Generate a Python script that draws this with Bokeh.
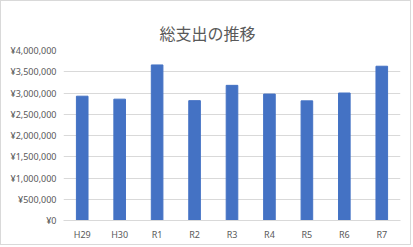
from bokeh.plotting import figure
from bokeh.models import Range1d, FixedTicker, ColumnDataSource, Title
from bokeh.embed import file_html
from bokeh.resources import INLINE

categories = ["H29", "H30", "R1", "R2", "R3", "R4", "R5", "R6", "R7"]
totals = [2925000, 2855000, 3660000, 2820000, 3180000, 2975000, 2815000, 3000000, 3630000]
tick_values = [0, 500000, 1000000, 1500000, 2000000, 2500000, 3000000, 3500000, 4000000]
tick_labels = ["¥" + format(v, ",") for v in tick_values]
title_text = "総支出の推移"

src = ColumnDataSource(dict(cat=categories, total=totals))

p = figure(width=411, height=245, x_range=categories, y_range=Range1d(0, 4000000),
           output_backend="svg", toolbar_location=None,
           min_border_left=62, min_border_right=12, min_border_top=49, min_border_bottom=26)
p.styles = {"border": "1px solid #d9d9d9"}

main_title = Title(text=title_text, align="left", offset=96, vertical_align="middle",
                   text_font="Noto Sans CJK JP", text_font_size="16px",
                   text_font_style="normal", text_color="#595959")
p.add_layout(main_title, "above")

p.vbar(x="cat", top="total", width=0.31, source=src, fill_color="#4472C4", line_color="#4472C4")

p.outline_line_color = None
p.xgrid.grid_line_color = None
p.ygrid.grid_line_color = "#d9d9d9"
p.yaxis.ticker = FixedTicker(ticks=tick_values)
p.yaxis.major_label_overrides = dict(zip(tick_values, tick_labels))
for ax in (p.xaxis, p.yaxis):
    ax.axis_line_color = None
    ax.major_tick_line_color = None
    ax.minor_tick_line_color = None
    ax.major_tick_in = 0
    ax.major_tick_out = 0
    ax.minor_tick_in = 0
    ax.minor_tick_out = 0
    ax.major_label_text_font = "Noto Sans"
    ax.major_label_text_font_size = "9px"
    ax.major_label_text_color = "#595959"
p.xaxis.axis_line_color = "#d9d9d9"
p.xaxis.major_label_standoff = 7
p.yaxis.major_label_standoff = 7

open("out.html", "w").write(file_html(p, INLINE))
